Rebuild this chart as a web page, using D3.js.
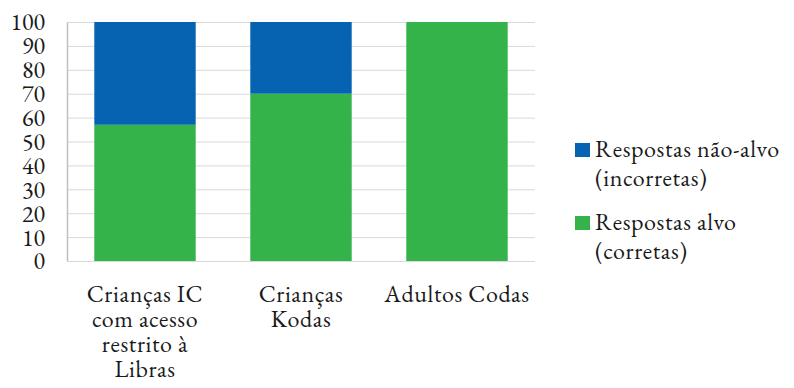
<!DOCTYPE html>
<html><head><meta charset="utf-8">
<script src="https://cdn.jsdelivr.net/npm/d3@7"></script>
<style>body{margin:0;background:#fff}svg{display:block}</style>
</head><body><svg id="c" width="794" height="388"></svg>
<script>
const categories = [["Crianças IC","com acesso","restrito à","Libras"],["Crianças","Kodas"],["Adultos Codas"]];
const corretas = [57, 70, 100];
const incorretas = [43, 30, 0];
const yTicks = [0,10,20,30,40,50,60,70,80,90,100];
const legendLines = [["Respostas não-alvo","(incorretas)"],["Respostas alvo","(corretas)"]];
const colors = {inc:"#0563B1", cor:"#34B34A"};
const FONT = "'EB Garamond', 'Liberation Serif', serif";
const FS = 24;
const LS = "0.6px";
const TXT = "#1a1a1a";

const svg = d3.select("#c");
const mLeft = 67, mRight = 535, mTop = 22, mBottom = 261;
const x = d3.scaleBand().domain(d3.range(categories.length)).range([mLeft, mRight]).paddingInner(0.35).paddingOuter(0.175);
const y = d3.scaleLinear().domain([0,100]).range([mBottom, mTop]);

// gridlines
svg.append("g").selectAll("line").data(yTicks.filter(t=>t>0)).join("line")
  .attr("x1", mLeft).attr("x2", mRight).attr("y1", d=>y(d)+0.5).attr("y2", d=>y(d)+0.5)
  .attr("stroke", "#d9d9d9").attr("stroke-width", 1);

// y axis
const ya = svg.append("g").attr("transform", `translate(${mLeft},0)`)
  .call(d3.axisLeft(y).tickValues(yTicks).tickSize(0).tickPadding(22))
  .attr("font-family", FONT).attr("font-size", 24);
ya.select(".domain").attr("stroke", "#bfbfbf").attr("stroke-width", 1.5);
ya.selectAll("text").attr("fill", TXT).attr("dy", "0.33em");
svg.append("line").attr("x1", mLeft).attr("x2", mRight).attr("y1", mBottom+0.5).attr("y2", mBottom+0.5).attr("stroke", "#d9d9d9");

// bars
const g = svg.append("g");
g.selectAll("rect.cor").data(corretas).join("rect").attr("class","cor")
  .attr("x", (d,i)=>x(i)).attr("width", x.bandwidth())
  .attr("y", d=>y(d)).attr("height", d=>y(0)-y(d)).attr("fill", colors.cor);
g.selectAll("rect.inc").data(incorretas).join("rect").attr("class","inc")
  .attr("x", (d,i)=>x(i)).attr("width", x.bandwidth())
  .attr("y", (d,i)=>y(corretas[i]+d)).attr("height", (d,i)=>y(corretas[i])-y(corretas[i]+d)).attr("fill", colors.inc);

// x labels
categories.forEach((lines,i)=>{
  const t = svg.append("text").attr("text-anchor","middle").attr("font-size",FS).attr("font-family",FONT)
    .attr("letter-spacing", LS).attr("fill",TXT);
  lines.forEach((ln,j)=>{
    t.append("tspan").attr("x", x(i)+x.bandwidth()/2).attr("y", 302 + j*25).text(ln);
  });
});

// legend
const legY = [157, 230];
const legColors = [colors.inc, colors.cor];
legendLines.forEach((lines,k)=>{
  svg.append("rect").attr("x",575).attr("y",legY[k]-14).attr("width",15).attr("height",14).attr("fill",legColors[k]);
  const t = svg.append("text").attr("font-size",FS).attr("font-family",FONT).attr("letter-spacing", LS).attr("fill",TXT);
  lines.forEach((ln,j)=>t.append("tspan").attr("x",595).attr("y",legY[k]+j*29).text(ln));
});
</script></body></html>
